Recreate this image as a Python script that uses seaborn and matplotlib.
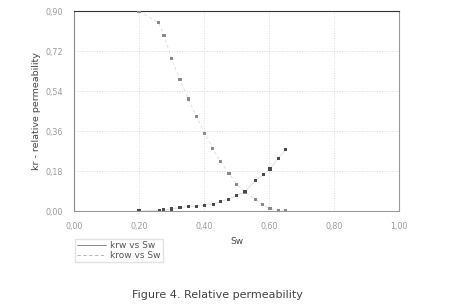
import numpy as np
import pandas as pd
import seaborn as sns
import matplotlib.pyplot as plt
from matplotlib.ticker import FuncFormatter

# Values
sw_krw = [0.200, 0.263, 0.276, 0.300, 0.326, 0.351, 0.376, 0.402, 0.428, 0.451,
          0.476, 0.500, 0.526, 0.558, 0.582, 0.603, 0.628, 0.652]
krw = [0.000, 0.003, 0.006, 0.009, 0.015, 0.021, 0.021, 0.026, 0.030, 0.044,
       0.053, 0.069, 0.087, 0.137, 0.163, 0.189, 0.237, 0.276]

sw_krow = [0.200, 0.260, 0.277, 0.300, 0.326, 0.352, 0.377, 0.402, 0.427, 0.451,
           0.477, 0.500, 0.526, 0.558, 0.580, 0.603, 0.628, 0.652]
krow = [0.900, 0.848, 0.789, 0.687, 0.590, 0.504, 0.424, 0.350, 0.280, 0.222,
        0.170, 0.120, 0.085, 0.053, 0.028, 0.010, 0.002, 0.000]

x_ticks = [0.0, 0.2, 0.4, 0.6, 0.8, 1.0]
y_ticks = [0.0, 0.18, 0.36, 0.54, 0.72, 0.90]

df_w = pd.DataFrame({'Sw': sw_krw, 'kr': krw})
df_o = pd.DataFrame({'Sw': sw_krow, 'kr': krow})

sns.set_style('white')
plt.rcParams['font.family'] = ['DejaVu Sans']

fig = plt.figure(figsize=(4.5, 3.08), dpi=100)
ax = fig.add_axes([74 / 450, 1 - 211 / 308, 325 / 450, 200 / 308])

# connecting lines (very faint) and the point markers
sns.lineplot(data=df_w, x='Sw', y='kr', ax=ax, color='#dcdcdc', lw=0.6,
             label='krw vs Sw', sort=False)
sns.lineplot(data=df_o, x='Sw', y='kr', ax=ax, color='#dcdcdc', lw=0.6,
             ls=(0, (4, 3)), label='krow vs Sw', sort=False)
sns.scatterplot(data=df_o, x='Sw', y='kr', ax=ax, marker='s', s=5,
                color='#8a8a8a', edgecolor='none', legend=False, zorder=3)
sns.scatterplot(data=df_w, x='Sw', y='kr', ax=ax, marker='s', s=5,
                color='#4a4a4a', edgecolor='none', legend=False, zorder=4)

ax.set_xlim(0, 1)
ax.set_ylim(0, 0.9)
ax.set_xticks(x_ticks)
ax.set_yticks(y_ticks)
fmt = FuncFormatter(lambda v, p: f'{v:.2f}'.replace('.', ','))
ax.xaxis.set_major_formatter(fmt)
ax.yaxis.set_major_formatter(fmt)
ax.tick_params(axis='both', labelsize=5.8, labelcolor='#9a9a9a', length=0, pad=8)

ax.grid(True, ls=(0, (1, 2)), color='#d0d0d0', lw=0.6)
ax.spines['top'].set_color('#333333')
ax.spines['left'].set_color('#888888')
ax.spines['right'].set_color('#999999')
ax.spines['bottom'].set_color('#999999')
for s in ax.spines.values():
    s.set_linewidth(0.8)

ax.set_xlabel('Sw', fontsize=6.5, color='#444444', labelpad=4)
ax.set_ylabel('kr - relative permeability', fontsize=6.8, color='#444444', labelpad=3)

leg = ax.legend(loc='upper left', bbox_to_anchor=(-0.012, -0.115), fontsize=6.5,
                frameon=True, fancybox=False, handlelength=3.2, borderpad=0.25,
                labelspacing=0.1, handletextpad=0.5, edgecolor='#dddddd')
for t in leg.get_texts():
    t.set_color('#555555')
leg.get_lines()[0].set_color('#777777')
leg.get_lines()[1].set_color('#aaaaaa')

fig.text(217 / 450, 1 - 295 / 308, 'Figure 4. Relative permeability',
         ha='center', va='center', fontsize=8, color='#444444')

fig.savefig('out.png', dpi=100)
